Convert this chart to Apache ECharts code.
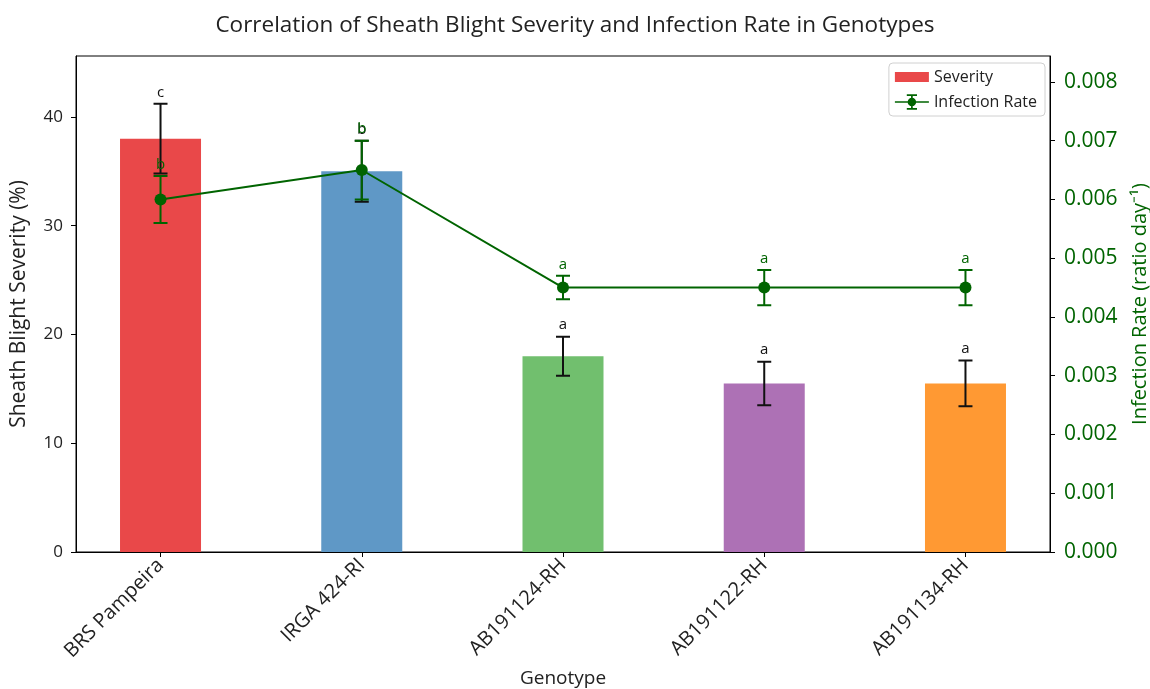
<!DOCTYPE html>
<html>
<head>
<meta charset="utf-8">
<script src="https://cdn.jsdelivr.net/npm/echarts@6/dist/echarts.min.js"></script>
<style>
  html, body { margin: 0; padding: 0; background: #fff; }
  #chart { width: 1150px; height: 689px; }
</style>
</head>
<body>
<div id="chart"></div>
<script>
// Genotypes and measured values
const genotypes = ['BRS Pampeira', 'IRGA 424-RI', 'AB191124-RH', 'AB191122-RH', 'AB191134-RH'];
const severity = [38, 35, 18, 15.5, 15.5];
const severityErr = [3.2, 2.8, 1.8, 2.0, 2.1];
const severityLetters = ['c', 'b', 'a', 'a', 'a'];
const infectionRate = [0.006, 0.0065, 0.0045, 0.0045, 0.0045];
const infectionErr = [0.0004, 0.0005, 0.0002, 0.0003, 0.0003];
const rateLetters = ['b', 'b', 'a', 'a', 'a'];
const severityTicks = [0, 10, 20, 30, 40];
const rateTicks = [0, 0.001, 0.002, 0.003, 0.004, 0.005, 0.006, 0.007, 0.008];

const barColors = ['#e94849', '#5f98c6', '#71bf6e', '#ad71b5', '#ff9933'];
const rateColor = '#006400';
const FONT = '"Open Sans", sans-serif';
const idx = genotypes.map((_, i) => i);

// Error bar (stem + two caps) with a significance letter above it
function errorBarRenderer(color, letters) {
  return function (params, api) {
    const i = params.dataIndex;
    const x = api.value(0), v = api.value(1), e = api.value(2);
    const top = api.coord([x, v + e]);
    const bot = api.coord([x, v - e]);
    const half = 7;
    const d = 'M' + top[0] + ',' + top[1] + 'L' + bot[0] + ',' + bot[1] +
              'M' + (top[0] - half) + ',' + top[1] + 'L' + (top[0] + half) + ',' + top[1] +
              'M' + (bot[0] - half) + ',' + bot[1] + 'L' + (bot[0] + half) + ',' + bot[1];
    return {
      type: 'group',
      children: [
        { type: 'path', shape: { pathData: d }, style: { stroke: color, lineWidth: 2, fill: null } },
        { type: 'text', x: top[0], y: top[1] - 4,
          style: { text: letters[i], fill: color, fontFamily: FONT, fontSize: 15,
                   align: 'center', verticalAlign: 'bottom' } }
      ]
    };
  };
}

const chart = echarts.init(document.getElementById('chart'), null, { renderer: 'canvas' });

chart.setOption({
  animation: false,
  backgroundColor: '#fff',
  title: {
    text: 'Correlation of Sheath Blight Severity and Infection Rate in Genotypes',
    left: 'center', top: 9,
    textStyle: { fontFamily: FONT, fontSize: 22.5, fontWeight: 'normal', color: '#222' }
  },
  legend: {
    orient: 'vertical',
    right: 105, top: 63,
    padding: [6, 8, 6, 6],
    itemGap: 9,
    itemWidth: 34, itemHeight: 16,
    backgroundColor: '#fff',
    borderColor: '#d0d0d0', borderWidth: 1, borderRadius: 4,
    textStyle: { fontFamily: FONT, fontSize: 16, color: '#222' },
    data: [
      { name: 'Severity', icon: 'path://M0,0H34V10H0Z' },
      { name: 'Infection Rate',
        icon: 'path://M0,9H40V11H0Z M19,2H21V18H19Z M14,1H26V3H14Z M14,17H26V19H14Z M25,10A5,5 0 1,1 15,10A5,5 0 1,1 25,10Z' }
    ]
  },
  grid: {
    left: 76, right: 100, top: 56, bottom: 137,
    outerBoundsMode: 'none',
    containLabel: false,
    show: true, borderColor: '#000', borderWidth: 1, backgroundColor: 'transparent'
  },
  xAxis: {
    type: 'value',
    min: -0.42, max: 4.42,
    name: 'Genotype',
    nameLocation: 'middle', nameGap: 117,
    nameTextStyle: { fontFamily: FONT, fontSize: 19, color: '#222' },
    axisLine: { show: true, onZero: false, lineStyle: { color: '#000', width: 1 } },
    axisTick: { show: true, customValues: idx, length: 5, lineStyle: { color: '#000' } },
    axisLabel: {
      customValues: idx,
      rotate: 45,
      margin: 10,
      fontFamily: FONT, fontSize: 20, color: '#222',
      formatter: v => genotypes[Math.round(v)]
    },
    splitLine: { show: false }
  },
  yAxis: [
    {
      type: 'value', min: 0, max: 45.6,
      position: 'left',
      name: 'Sheath Blight Severity (%)',
      nameLocation: 'middle', nameGap: 46,
      nameTextStyle: { fontFamily: FONT, fontSize: 21, color: '#222' },
      axisLine: { show: true, onZero: false, lineStyle: { color: '#000' } },
      axisTick: { show: true, customValues: severityTicks, length: 5, lineStyle: { color: '#000' } },
      axisLabel: { customValues: severityTicks, fontFamily: FONT, fontSize: 17, color: '#222', margin: 13 },
      splitLine: { show: false }
    },
    {
      type: 'value', min: 0, max: 0.00844,
      position: 'right',
      name: 'Infection Rate (ratio day\u207B\u00B9)',
      nameLocation: 'middle', nameGap: 80, nameRotate: 90,
      nameTextStyle: { fontFamily: FONT, fontSize: 20, color: rateColor },
      axisLine: { show: true, onZero: false, lineStyle: { color: '#000' } },
      axisTick: { show: true, customValues: rateTicks, length: 5, lineStyle: { color: '#000' } },
      axisLabel: {
        customValues: rateTicks, fontFamily: FONT, fontSize: 21, color: rateColor, margin: 14,
        formatter: v => v.toFixed(3)
      },
      splitLine: { show: false }
    }
  ],
  series: [
    {
      name: 'Severity',
      type: 'bar',
      yAxisIndex: 0,
      barWidth: 81,
      z: 2,
      itemStyle: { color: barColors[0] },
      data: severity.map((v, i) => ({ value: [i, v], itemStyle: { color: barColors[i] } }))
    },
    {
      name: 'SeverityError',
      type: 'custom',
      yAxisIndex: 0,
      z: 3,
      silent: true,
      renderItem: errorBarRenderer('#111', severityLetters),
      data: severity.map((v, i) => [i, v, severityErr[i]])
    },
    {
      name: 'Infection Rate',
      type: 'line',
      yAxisIndex: 1,
      z: 4,
      symbol: 'circle',
      symbolSize: 12,
      itemStyle: { color: rateColor },
      lineStyle: { color: rateColor, width: 2 },
      data: infectionRate.map((v, i) => [i, v])
    },
    {
      name: 'RateError',
      type: 'custom',
      yAxisIndex: 1,
      z: 5,
      silent: true,
      renderItem: errorBarRenderer(rateColor, rateLetters),
      data: infectionRate.map((v, i) => [i, v, infectionErr[i]])
    }
  ]
});
</script>
</body>
</html>
